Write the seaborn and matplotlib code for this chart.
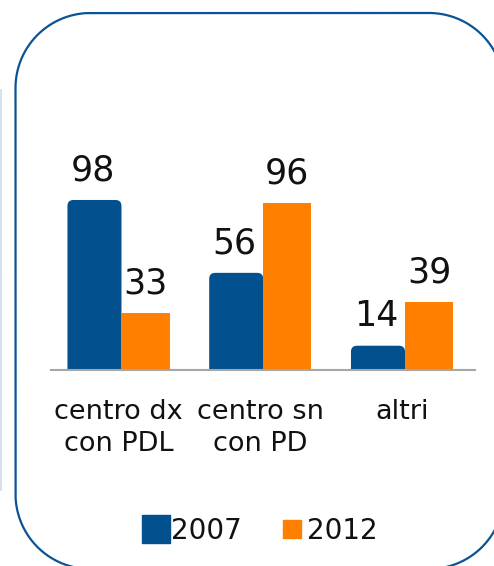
import matplotlib
matplotlib.use("Agg")
import matplotlib.pyplot as plt
import seaborn as sns
import pandas as pd
import numpy as np
from matplotlib.patches import FancyBboxPatch
from matplotlib.lines import Line2D
from matplotlib.transforms import IdentityTransform

categories = ["centro dx\ncon PDL", "centro sn\ncon PD", "altri"]
years = ["2007", "2012"]
values_2007 = [98, 56, 14]
values_2012 = [33, 96, 39]
colors = {"2007": "#02508E", "2012": "#FF7F00"}

df = pd.DataFrame({
    "categoria": categories * 2,
    "anno": [years[0]] * 3 + [years[1]] * 3,
    "valore": values_2007 + values_2012,
})

sns.set_theme(style="white")
plt.rcParams["font.family"] = ["DejaVu Sans"]

W, H = 494, 566
fig = plt.figure(figsize=(W / 100, H / 100), dpi=100)

# axes placement in pixels
ax_left, ax_right = 51, 475
ax_base = 370
ax_h = 173.5
ax = fig.add_axes([ax_left / W, (H - ax_base) / H, (ax_right - ax_left) / W, ax_h / H])

sns.barplot(data=df, x="categoria", y="valore", hue="anno", palette=colors,
            width=0.72, saturation=1, ax=ax, legend=False, errorbar=None,
            linewidth=0)

ax.set_ylim(0, 100)
ax.set_xlim(-0.476, 2.515)

xpx = 1 / 141.75
ypx = 100 / ax_h
shift = 3 * xpx

# orange bars: slightly narrower, on top
for p in ax.containers[1].patches:
    p.set_x(p.get_x() + shift)
    p.set_width(p.get_width() - shift)
    p.set_zorder(5)

# rounded tops for 2007 bars
for p in ax.containers[0].patches:
    x, w, h = p.get_x(), p.get_width() + shift, p.get_height()
    p.set_visible(False)
    r = 6 * xpx
    fb = FancyBboxPatch((x, -10), w, h + 10,
                        boxstyle=f"round,pad=0,rounding_size={r}",
                        mutation_aspect=ypx / xpx,
                        facecolor=colors["2007"], edgecolor="none", zorder=4)
    ax.add_patch(fb)

# value labels
for cont in ax.containers:
    for p in cont.patches:
        h = p.get_height()
        ax.annotate(f"{h:.0f}", (p.get_x() + p.get_width() / 2, h),
                    xytext=(0, 14), textcoords="offset points",
                    ha="center", va="baseline", fontsize=25, color="#111111",
                    zorder=10)

for s in ["top", "right", "left"]:
    ax.spines[s].set_visible(False)
ax.spines["bottom"].set_color("#A6A6A6")
ax.spines["bottom"].set_linewidth(1.5)
ax.spines["bottom"].set_zorder(20)
ax.set_yticks([])
ax.set_xlabel("")
ax.set_ylabel("")
ax.tick_params(axis="x", length=0, pad=21, labelsize=19.5, colors="#111111")
for lbl in ax.get_xticklabels():
    lbl.set_linespacing(1.28)
ax.set_facecolor("none")

# legend
handles = [
    Line2D([], [], marker="s", linestyle="none", markersize=20,
           markerfacecolor=colors["2007"], markeredgecolor=colors["2007"]),
    Line2D([], [], marker="s", linestyle="none", markersize=13,
           markerfacecolor=colors["2012"], markeredgecolor=colors["2012"]),
]
leg = fig.legend(handles, years, loc="center left",
                 bbox_to_anchor=(142 / W, 1 - 531 / H), bbox_transform=fig.transFigure,
                 ncol=2, frameon=False, fontsize=20, handlelength=1.0,
                 handletextpad=0.05, columnspacing=1.3, borderpad=0, borderaxespad=0)
for t in leg.get_texts():
    t.set_color("#111111")

# rounded frame drawn as a polyline in pixel coordinates (origin bottom-left)
L, R, T, B, rad = 15.5, 504.0, H - 13.0, H - 569.0, 75.0
def arc(cx, cy, a0, a1, n=60):
    a = np.linspace(np.radians(a0), np.radians(a1), n)
    return cx + rad * np.cos(a), cy + rad * np.sin(a)
segs = [arc(R - rad, T - rad, 0, 90), arc(L + rad, T - rad, 90, 180),
        arc(L + rad, B + rad, 180, 270), arc(R - rad, B + rad, 270, 360)]
fx = np.concatenate([s[0] for s in segs] + [segs[0][0][:1]])
fy = np.concatenate([s[1] for s in segs] + [segs[0][1][:1]])
fig.add_artist(Line2D(fx, fy, transform=IdentityTransform(), color="#0B5394",
                      linewidth=1.6, solid_joinstyle="round"))
fig.add_artist(Line2D([1.2 / W, 1.2 / W], [1 - 90 / H, 1 - 490 / H],
                      transform=fig.transFigure, color="#D5E1EC", linewidth=1.5))

fig.savefig("out.png", dpi=100)
